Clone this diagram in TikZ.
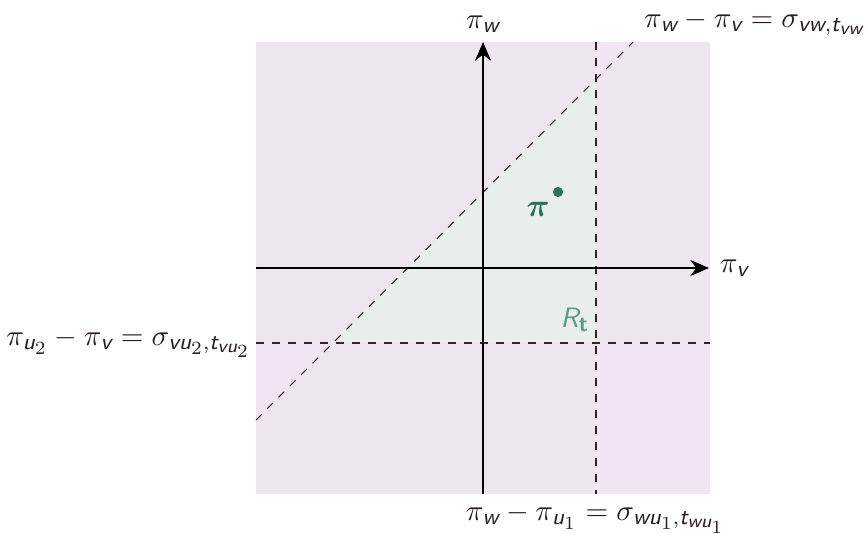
\documentclass[tikz,border=0pt]{standalone}
\usepackage{amsmath,bm}
\usetikzlibrary{arrows.meta}
\DeclareMathSizes{10.5}{10.5}{8.5}{7}
\newcommand\mv[1]{\text{\sffamily\itshape #1}}
\definecolor{basefill}{HTML}{EEE6EE}
\definecolor{dblfill}{HTML}{F2E5F3}
\definecolor{feasfill}{HTML}{E7EEEB}
\definecolor{darkgreen}{HTML}{2D6E5C}
\definecolor{lightgreen}{HTML}{5E9A88}
\definecolor{dashcol}{HTML}{3A1F2C}
\definecolor{txtcol}{HTML}{2A1A24}
\tikzset{
  every node/.style={font=\fontsize{10.5}{12.5}\selectfont},
  axis/.style={line width=0.9pt, -{Stealth[length=7pt,width=6pt]}},
  bound/.style={dashed, line width=0.4pt, color=dashcol},
  lbl/.style={text=txtcol, inner sep=3.3pt}
}
\begin{document}
\begin{tikzpicture}[x=0.375pt,y=-0.375pt]
\useasboundingbox (0,0) rectangle (868,533);
% regions
\fill[basefill] (256,42) rectangle (710,494);
\fill[dblfill] (596,343) rectangle (710,494);
\fill[dblfill] (256,343) -- (333,343) -- (256,420) -- cycle;
\fill[dblfill] (596,42) -- (633,42) -- (596,79) -- cycle;
\fill[feasfill] (333,343) -- (596,343) -- (596,80) -- cycle;
% coordinates
\coordinate (dl) at (256,420);
\coordinate (dr) at (633,42);
\coordinate (vt) at (596,42);
\coordinate (vb) at (596,494);
\coordinate (hl) at (256,343);
\coordinate (hr) at (710,343);
\coordinate (xl) at (256,268);
\coordinate (xr) at (709,268);
\coordinate (yb) at (483,494);
\coordinate (yt) at (483,42);
% dashed boundaries
\draw[bound] (dl) -- (dr);
\draw[bound] (vt) -- (vb);
\draw[bound] (hl) -- (hr);
% axes
\draw[axis] (xl) -- (xr);
\draw[axis] (yb) -- (yt);
% labels
\node[lbl, anchor=west, xshift=0.6pt] (lx) at (xr) {$\pi_{\mv{v}}$};
\node[lbl, anchor=south] (ly) at (yt) {$\pi_{\mv{w}}$};
\node[lbl, anchor=south west, inner sep=1pt, xshift=3pt, yshift=1pt] (ld) at (dr) {$\pi_{\mv{w}} - \pi_{\mv{v}} = \sigma_{\mv{vw},\mv{t}_{\mv{vw}}}$};
\node[lbl, anchor=east, xshift=1.9pt] (lh) at (hl) {$\pi_{\mv{u}_2} - \pi_{\mv{v}} = \sigma_{\mv{vu}_2,\mv{t}_{\mv{vu}_2}}$};
\node[lbl, anchor=north] (lv) at (vb) {$\pi_{\mv{w}} - \pi_{\mv{u}_1} = \sigma_{\mv{wu}_1,\mv{t}_{\mv{wu}_1}}$};
% point
\fill[darkgreen] (558,192) circle (1.9pt) node (pt) {};
\node[text=darkgreen] (pl) at (538,209) {\fontsize{11.5}{13}\selectfont$\bm{\pi}$};
\node[text=lightgreen] (rl) at (575,320) {$\mv{R}_{\text{\sffamily\bfseries t}}$};
\end{tikzpicture}
\end{document}
